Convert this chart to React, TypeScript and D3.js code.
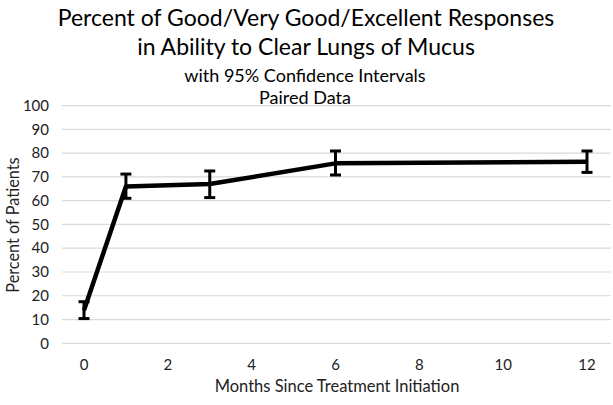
import React from "react";
import * as d3 from "d3";

const months = [0, 1, 3, 6, 12];
const percent = [13.9, 66, 67, 75.7, 76.4];
const ciLow = [10.4, 61, 61.3, 70.8, 71.9];
const ciHigh = [17.5, 71.2, 72.5, 80.9, 80.9];
const xTicks = [0, 2, 4, 6, 8, 10, 12];
const yTicks = [0, 10, 20, 30, 40, 50, 60, 70, 80, 90, 100];
const titleLines = ["Percent of Good/Very Good/Excellent Responses", "in Ability to Clear Lungs of Mucus"];
const subtitleLines = ["with 95% Confidence Intervals", "Paired Data"];

const W = 613;
const H = 405;
const FONT = "Lato, 'Open Sans', sans-serif";

export default function App() {
  const x = d3.scaleLinear().domain([0, 12]).range([84, 587]);
  const y = d3.scaleLinear().domain([0, 100]).range([343.3, 105.6]);
  const line = d3
    .line<number>()
    .x((_, i) => x(months[i]))
    .y((d) => y(d));
  const cap = 5.5;
  return (
    <svg
      width={W}
      height={H}
      style={{ position: "absolute", left: 0, top: 0, background: "#fff" }}
      fontFamily={FONT}
    >
      <rect width={W} height={H} fill="#fff" />
      {titleLines.map((t, i) => (
        <text key={t} x={306} y={26 + i * 29} textAnchor="middle" fontSize={23} fill="#000">
          {t}
        </text>
      ))}
      {subtitleLines.map((t, i) => (
        <text key={t} x={305} y={81.5 + i * 22} textAnchor="middle" fontSize={18} fill="#000">
          {t}
        </text>
      ))}
      {yTicks.map((t) => (
        <g key={t}>
          <line x1={62} x2={611} y1={y(t)} y2={y(t)} stroke="#d9d9d9" strokeWidth={1.2} />
          <text x={49} y={y(t)} dy="0.35em" textAnchor="end" fontSize={15} fill="#222">
            {t}
          </text>
        </g>
      ))}
      {xTicks.map((t) => (
        <text key={t} x={x(t)} y={369.5} textAnchor="middle" fontSize={15} fill="#222">
          {t}
        </text>
      ))}
      <text x={337} y={391.5} textAnchor="middle" fontSize={16.5} fill="#222">
        Months Since Treatment Initiation
      </text>
      <text
        transform={`translate(19,225) rotate(-90)`}
        textAnchor="middle"
        fontSize={16.3}
        fill="#222"
      >
        Percent of Patients
      </text>
      <path d={line(percent) || ""} fill="none" stroke="#000" strokeWidth={4.5} strokeLinejoin="round" />
      {months.map((m, i) => (
        <g key={m} stroke="#000" strokeWidth={3}>
          <line x1={x(m)} x2={x(m)} y1={y(ciLow[i])} y2={y(ciHigh[i])} />
          <line x1={x(m) - cap} x2={x(m) + cap} y1={y(ciLow[i])} y2={y(ciLow[i])} />
          <line x1={x(m) - cap} x2={x(m) + cap} y1={y(ciHigh[i])} y2={y(ciHigh[i])} />
        </g>
      ))}
    </svg>
  );
}
